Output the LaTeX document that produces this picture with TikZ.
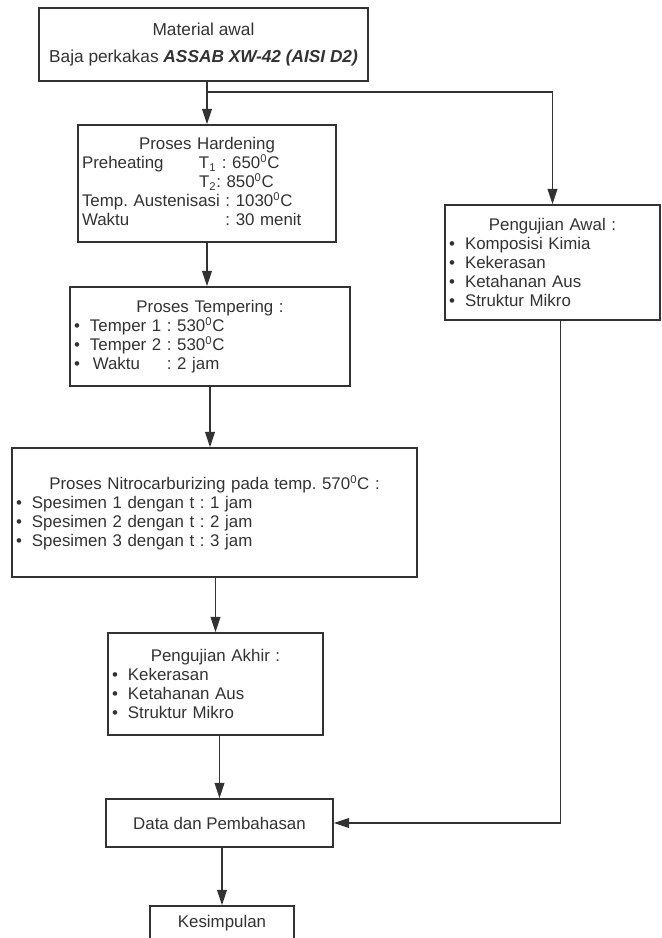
\documentclass[tikz,border=0pt]{standalone}
\usepackage{fontspec}
\setmainfont{Liberation Sans}
\usepackage{xcolor}
\usepackage{tikz}
\usetikzlibrary{arrows.meta, positioning, calc}
\definecolor{InkGray}{RGB}{50, 50, 50}
\newcommand{\bul}{\makebox[0.4cm][l]{\textbullet}}
\newcommand{\degc}{\textsuperscript{0}C}
\newcommand{\ttl}[1]{\hspace*{\fill}#1\hspace*{\fill}\null}

\begin{document}
\begin{tikzpicture}[
  box/.style={draw=InkGray, line width=1.1pt, inner xsep=0.1cm, inner ysep=2pt,
    align=left, font=\fontsize{12}{13.5}\selectfont\frenchspacing\color{InkGray}},
  cbox/.style={box, align=center},
  arr/.style={-{Triangle[length=11pt, width=7pt]}, InkGray, line width=1.1pt}
]
\useasboundingbox (0,0) rectangle (16.55,-23.45);

% Main column
\node[cbox, minimum width=8.225cm, minimum height=1.825cm,
      font=\fontsize{12.3}{14}\selectfont\color{InkGray}] (mat) at (5.0875,-1.1125)
  {Material awal\\[5pt] Baja perkakas \textbf{\textit{ASSAB XW-42 (AISI D2)}}};

\node[box, text width=6.25cm, minimum height=2.925cm] (hard) at (5.175,-4.5875)
  {\ttl{Proses Hardening}\\
   \makebox[2.925cm][l]{Preheating}T\textsubscript{1} : 650\degc\\
   \hspace*{2.925cm}T\textsubscript{2}: 850\degc\\
   Temp. Austenisasi : 1030\degc\\
   \makebox[0pt][l]{Waktu}\phantom{Temp. Austenisasi} : 30 menit};

\node[box, text width=6.8cm, minimum height=2.475cm] (temp) at (5.25,-8.4125)
  {\ttl{Proses Tempering :}\\
   \bul Temper 1 : 530\degc\\
   \bul Temper 2 : 530\degc\\
   \bul\makebox[0pt][l]{\hspace{2pt}Waktu}\phantom{Temper 1} : 2 jam};

\node[box, text width=9.925cm, minimum height=3.225cm] (nitro) at (5.3625,-12.8125)
  {\ttl{Proses Nitrocarburizing pada temp. 570\degc{} :}\\
   \bul Spesimen 1 dengan t : 1 jam\\
   \bul Spesimen 2 dengan t : 2 jam\\
   \bul Spesimen 3 dengan t : 3 jam};

\node[box, text width=5.175cm, minimum height=2.55cm] (akhir) at (5.3875,-17.1)
  {\ttl{Pengujian Akhir :}\\
   \bul Kekerasan\\
   \bul Ketahanan Aus\\
   \bul Struktur Mikro};

\node[cbox, minimum width=5.675cm, minimum height=1.2cm] (data) at (5.4875,-20.575)
  {Data dan Pembahasan};
\node[cbox, minimum width=3.6cm, minimum height=0.85cm] (kes) at (5.55,-23.075)
  {Kesimpulan};

% Right column - initial tests
\node[box, text width=5.175cm, minimum height=2.875cm] (awal) at (13.8125,-6.5625)
  {\ttl{Pengujian Awal :}\\
   \bul Komposisi Kimia\\
   \bul Kekerasan\\
   \bul Ketahanan Aus\\
   \bul Struktur Mikro};

\coordinate (split) at ($(mat.south -| hard.north)+(0,-0.25)$);

\draw[arr] (mat.south -| hard.north) -- (hard.north);
\draw[arr] (split) -| (awal.north);
\draw[arr] (hard.south) -- (hard.south |- temp.north);
\draw[arr] (temp.south) -- (temp.south |- nitro.north);
\draw[arr] (nitro.south -| akhir.north) -- (akhir.north);
\draw[arr] (akhir.south -| data.north) -- (data.north);
\draw[arr] (data.south -| kes.north) -- (kes.north);
\draw[arr] ([xshift=0.2cm]awal.south) |- (data.east);
\end{tikzpicture}
\end{document}
